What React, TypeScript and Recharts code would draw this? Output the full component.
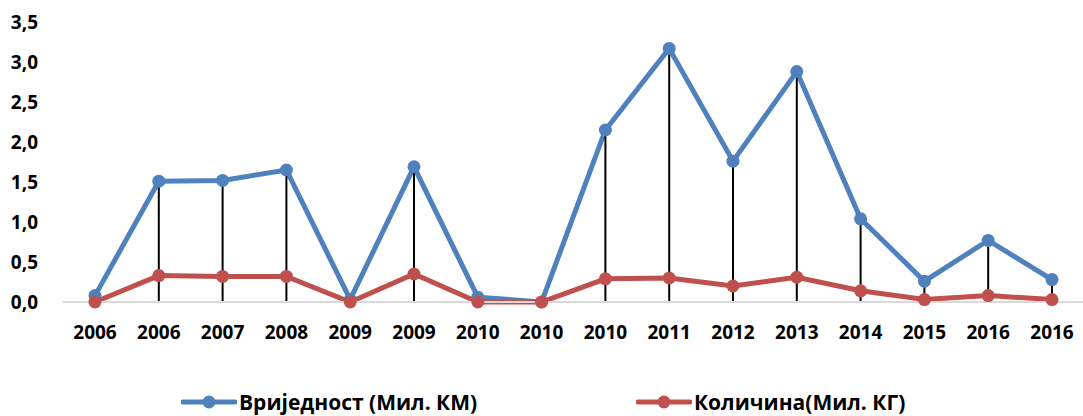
import React from 'react';
import { ComposedChart, Line, XAxis, YAxis, ErrorBar } from 'recharts';

const categories = ['2006', '2006', '2007', '2008', '2009', '2009', '2010', '2010', '2010', '2011', '2012', '2013', '2014', '2015', '2016', '2016'];
const valueSeries = [0.08, 1.51, 1.52, 1.65, 0.03, 1.69, 0.06, 0.0, 2.15, 3.17, 1.76, 2.88, 1.04, 0.26, 0.77, 0.28];
const quantitySeries = [0.0, 0.33, 0.32, 0.32, 0.0, 0.35, 0.0, 0.0, 0.29, 0.30, 0.20, 0.31, 0.14, 0.03, 0.08, 0.03];
const yTicks = [0, 0.5, 1, 1.5, 2, 2.5, 3, 3.5];
const valueName = 'Вриједност (Мил. КМ)';
const quantityName = 'Количина(Мил. КГ)';

const BLUE = '#4F81BD';
const RED = '#C0504D';
const FONT = '"Open Sans", sans-serif';

const data = categories.map((label, i) => ({
  label,
  value: valueSeries[i],
  quantity: quantitySeries[i],
  drop: [valueSeries[i], 0],
}));

const LegendIcon = ({ color }: { color: string }) => (
  <svg width={56} height={16} style={{ display: 'block' }}>
    <line x1={2} y1={8} x2={54} y2={8} stroke={color} strokeWidth={5} strokeLinecap="round" />
    <circle cx={28} cy={8} r={6.5} fill={color} />
  </svg>
);

const legendItem = (left: number, color: string, text: string) => (
  <div
    style={{
      position: 'absolute',
      left,
      top: 390,
      display: 'flex',
      alignItems: 'center',
      fontFamily: FONT,
      fontWeight: 700,
      fontSize: 21,
      lineHeight: '24px',
      color: '#000',
      whiteSpace: 'nowrap',
    }}
  >
    <LegendIcon color={color} />
    <span style={{ marginLeft: 2 }}>{text}</span>
  </div>
);

export default function App() {
  return (
    <div style={{ position: 'absolute', left: 0, top: 0, width: 1083, height: 416, background: '#fff', fontFamily: FONT, overflow: 'hidden' }}>
      <ComposedChart width={1083} height={416} data={data} margin={{ top: 22, right: 0, left: 0, bottom: 84 }}>
        <XAxis
          dataKey="label"
          interval={0}
          tickLine={false}
          tickSize={0}
          tickMargin={24}
          padding={{ left: 32, right: 31 }}
          axisLine={{ stroke: '#D9D9D9', strokeWidth: 2 }}
          tick={{ fill: '#000', fontSize: 19, fontWeight: 700, fontFamily: FONT }}
          height={30}
        />
        <YAxis
          type="number"
          domain={[0, 3.5]}
          ticks={yTicks}
          width={63}
          axisLine={false}
          tickLine={false}
          tickSize={0}
          tickMargin={25}
          tickFormatter={(v: number) => v.toFixed(1).replace('.', ',')}
          tick={{ fill: '#000', fontSize: 19, fontWeight: 700, fontFamily: FONT }}
        />
        <Line
          dataKey="value"
          name={valueName}
          stroke={BLUE}
          strokeWidth={5}
          dot={{ r: 6.5, fill: BLUE, stroke: BLUE, strokeWidth: 0 }}
          activeDot={false}
          isAnimationActive={false}
        />
        <Line
          dataKey="quantity"
          name={quantityName}
          stroke={RED}
          strokeWidth={5}
          dot={{ r: 6.5, fill: RED, stroke: RED, strokeWidth: 0 }}
          activeDot={false}
          isAnimationActive={false}
        />
        <Line
          dataKey="value"
          stroke="none"
          dot={false}
          activeDot={false}
          legendType="none"
          isAnimationActive={false}
        >
          <ErrorBar dataKey="drop" direction="y" width={0} stroke="#000" strokeWidth={2} isAnimationActive={false} />
        </Line>
      </ComposedChart>
      {legendItem(181, BLUE, valueName)}
      {legendItem(636, RED, quantityName)}
    </div>
  );
}
